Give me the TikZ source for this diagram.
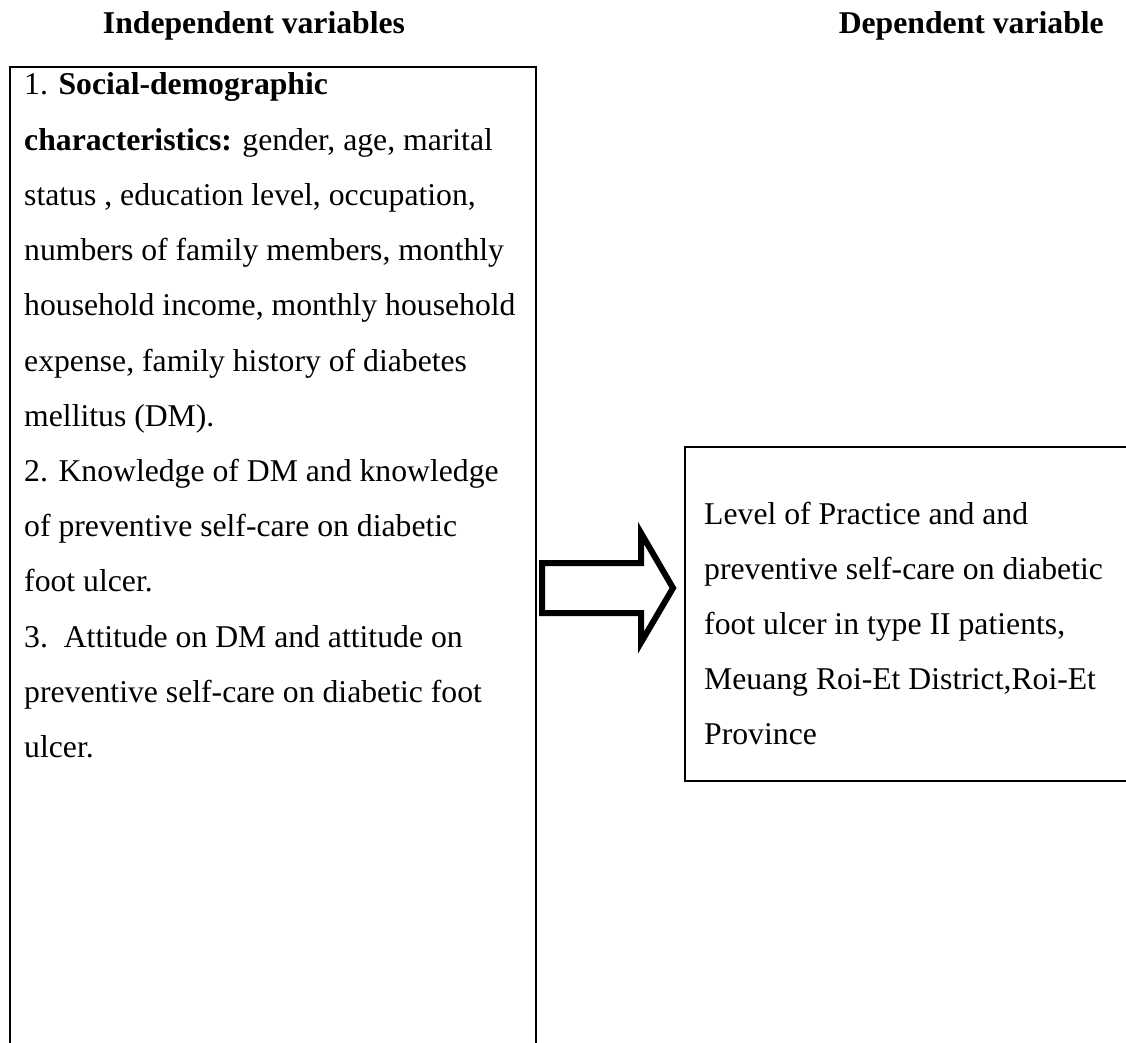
\documentclass[tikz,border=0pt]{standalone}
\usepackage{fontspec}
\setmainfont{Liberation Serif}
\begin{document}
\begin{tikzpicture}[x=1pt,y=-1pt,
  txt/.style={anchor=base west, inner sep=0pt, font=\fontsize{31.7}{38}\selectfont},
  head/.style={anchor=base, inner sep=0pt, font=\fontsize{31.7}{38}\selectfont\bfseries},
  boxline/.style={draw, line width=2pt, inner sep=0pt, anchor=north west},
  blockarrow/.style={draw, line width=6pt, miter limit=10}]
\useasboundingbox (0,0) rectangle (1126,1043);
\clip (0,0) rectangle (1126,1043);
\node[head] (h1) at (254,34) {Independent variables};
\node[head, anchor=base east] (h2) at (1104,34) {Dependent variable};
\node[boxline, minimum width=526pt, minimum height=1100pt] (indep) at (9,66) {};
\node[boxline, line width=1.5pt, minimum width=500pt, minimum height=334pt] (dep) at (684,446) {};
\foreach \t [count=\i from 0] in {
  {1. \textbf{Social-demographic}},
  {\textbf{characteristics:} gender, age, marital},
  {status , education level, occupation,},
  {numbers of family members, monthly},
  {household income, monthly household},
  {expense, family history of diabetes},
  {mellitus (DM).},
  {2. Knowledge of DM and knowledge},
  {of preventive self-care on diabetic},
  {foot ulcer.},
  {3.\ \ Attitude on DM and attitude on},
  {preventive self-care on diabetic foot},
  {ulcer.}}
  \node[txt] (a\i) at (24, 95+55.2*\i) {\t};
\foreach \t [count=\i from 0] in {
  {Level of Practice and and},
  {preventive self-care on diabetic},
  {foot ulcer in type II patients,},
  {Meuang Roi-Et District,Roi-Et},
  {Province}}
  \node[txt] (b\i) at (704, 524+55.2*\i) {\t};
\coordinate (ar) at (542,588);
\draw[blockarrow] (ar) ++(0,-25) -- ++(99,0) -- ++(0,-30) -- ++(32,55) -- ++(-32,54.5) -- ++(0,-29.5) -- ++(-99,0) -- cycle;
\end{tikzpicture}
\end{document}
